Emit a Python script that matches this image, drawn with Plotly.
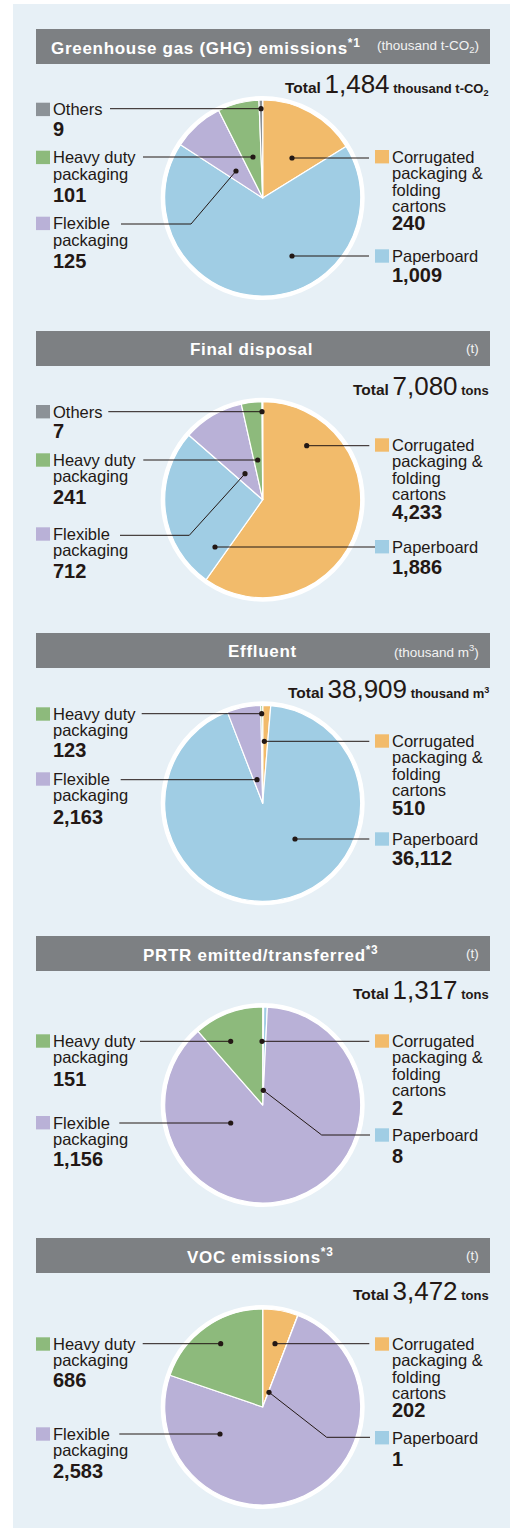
import plotly.graph_objects as go

W, H = 510, 1528

# ---------------- data ----------------
categories = ["Corrugated packaging & folding cartons", "Paperboard",
              "Flexible packaging", "Heavy duty packaging", "Others"]
category_lines = [["Corrugated", "packaging &", "folding", "cartons"],
                  ["Paperboard"], ["Flexible", "packaging"],
                  ["Heavy duty", "packaging"], ["Others"]]
category_colors = ["#F2BB6B", "#A0CDE4", "#B9B1D7", "#8DBA7C", "#8C9297"]

ghg_values = [240, 1009, 125, 101, 9]
disposal_values = [4233, 1886, 712, 241, 7]
effluent_values = [510, 36112, 2163, 123]
prtr_values = [2, 8, 1156, 151]
voc_values = [202, 1, 2583, 686]

chart_titles = ["Greenhouse gas (GHG) emissions<sup>*1</sup>", "Final disposal",
                "Effluent", "PRTR emitted/transferred<sup>*3</sup>",
                "VOC emissions<sup>*3</sup>"]
header_units = ["(thousand t-CO<sub>2</sub>)", "(t)", "(thousand m<sup>3</sup>)", "(t)", "(t)"]
total_labels = ["1,484", "7,080", "38,909", "1,317", "3,472"]
total_units = ["thousand t-CO<sub>2</sub>", "tons", "thousand m<sup>3</sup>", "tons", "tons"]

all_values = [ghg_values, disposal_values, effluent_values, prtr_values, voc_values]

# ---------------- layout (pixel positions) ----------------
TEXT = "#231815"
SANS = "Liberation Sans, Arial, Helvetica, sans-serif"
R = 98
CX = 262.7

# per chart: header y-range, title x, title anchor, pie center y, total baseline,
# labels: category index -> (side, square top, value centre y, leader points)
charts = [
    dict(header=(29, 64), tx=50, ta="left", cy=198, ty=94.3,
         labels={4: ("L", 102.7, 128.5, [(110, 108.7), (261, 108.7)]),
                 3: ("L", 150.7, 195, [(143, 157), (253, 157)]),
                 2: ("L", 216.7, 261, [(121, 224), (191, 224), (236, 171)]),
                 0: ("R", 150, 223.3, [(369, 158), (292, 158)]),
                 1: ("R", 249.3, 274.7, [(369, 256), (292, 256)])}),
    dict(header=(331, 366), tx=251, ta="center", cy=499.7, ty=396.7,
         labels={4: ("L", 405, 430.7, [(108.3, 411.7), (262, 411.7)]),
                 3: ("L", 453.3, 496.7, [(143.3, 460), (257.7, 460)]),
                 2: ("L", 527.3, 571.3, [(120, 535.3), (189.3, 535.3), (245, 473.7)]),
                 0: ("R", 438.3, 511.7, [(369.3, 445.7), (306.7, 445.7)]),
                 1: ("R", 540, 566.7, [(375, 547), (215, 547)])}),
    dict(header=(633, 668), tx=262, ta="center", cy=803.3, ty=699,
         labels={3: ("L", 707.3, 750.3, [(141.7, 713.7), (261.7, 713.7)]),
                 2: ("L", 772.3, 816.7, [(120.7, 779.7), (257, 779.7)]),
                 0: ("R", 734.3, 807.5, [(369.3, 741.3), (264.3, 741.3)]),
                 1: ("R", 832.3, 858.3, [(369.3, 839), (295, 839)])}),
    dict(header=(936, 971), tx=260, ta="center", cy=1105, ty=1000,
         labels={3: ("L", 1034.3, 1078.7, [(140, 1041.3), (230.7, 1041.3)]),
                 2: ("L", 1116, 1159, [(119.3, 1123), (230.7, 1123)]),
                 0: ("R", 1034.3, 1107.5, [(369.3, 1041.3), (262, 1041.3)]),
                 1: ("R", 1128.3, 1155.8, [(370, 1135), (321.7, 1135), (263.3, 1090.3)])}),
    dict(header=(1238, 1273), tx=260, ta="center", cy=1407, ty=1301.7,
         labels={3: ("L", 1337.3, 1380.2, [(142.7, 1343.7), (220.7, 1343.7)]),
                 2: ("L", 1427.3, 1470.5, [(119.3, 1434), (220, 1434)]),
                 0: ("R", 1337.3, 1410.2, [(369.3, 1343.7), (275, 1343.7)]),
                 1: ("R", 1431, 1458.8, [(370, 1437.3), (326.7, 1437.3), (269, 1392.3)])}),
]


def X(px):
    return px / W


def Y(py):
    return 1 - py / H


fig = go.Figure()
shapes = []
annotations = []


def txt(x, y, text, size, color=TEXT, anchor="left", family=SANS, yanchor="middle"):
    annotations.append(dict(x=X(x), y=Y(y), xref="paper", yref="paper", text=text,
                            showarrow=False, xanchor=anchor, yanchor=yanchor,
                            font=dict(size=size, color=color, family=family),
                            borderpad=0))


# panel background
shapes.append(dict(type="rect", xref="paper", yref="paper", x0=X(13), x1=X(510),
                   y0=Y(1528), y1=Y(4), fillcolor="#E7F0F6", line=dict(width=0), layer="below"))

for ci, (spec, vals) in enumerate(zip(charts, all_values)):
    cy = spec["cy"]
    h0, h1 = spec["header"]
    # header bar
    shapes.append(dict(type="rect", xref="paper", yref="paper", x0=X(36), x1=X(490),
                       y0=Y(h1), y1=Y(h0), fillcolor="#7D8083", line=dict(width=0), layer="below"))
    txt(spec["tx"], (h0 + h1) / 2 + 0.5,
        "<b><span style='letter-spacing:0.7px'>" + chart_titles[ci] + "</span></b>",
        17, color="white", anchor=spec["ta"])
    txt(480, (h0 + h1) / 2, header_units[ci], 13.5, color="#F2F2F2", anchor="right")
    # total
    txt(489.5, spec["ty"] + 5.5,
        "<b><span style='font-size:15.5px'>Total</span></b> "
        "<span style='font-size:26px'>" + total_labels[ci] + "</span> "
        "<b>" + total_units[ci] + "</b>",
        13, anchor="right", yanchor="bottom")
    # white ring behind pie
    shapes.append(dict(type="circle", xref="paper", yref="paper",
                       x0=X(CX - R - 4), x1=X(CX + R + 4), y0=Y(cy + R + 4), y1=Y(cy - R - 4),
                       fillcolor="white", line=dict(width=0), layer="below"))
    n = len(vals)
    fig.add_trace(go.Pie(
        labels=categories[:n], values=vals, sort=False, direction="clockwise", rotation=0,
        marker=dict(colors=category_colors[:n], line=dict(color="white", width=1.2)),
        textinfo="none", hoverinfo="label+value", showlegend=False,
        domain=dict(x=[X(CX - R), X(CX + R)], y=[Y(cy + R), Y(cy - R)])))
    # labels
    for k, (side, top, vy, pts) in spec["labels"].items():
        sx = 36 if side == "L" else 375
        tx = 52 if side == "L" else 391
        shapes.append(dict(type="rect", xref="paper", yref="paper", x0=X(sx), x1=X(sx + 14),
                           y0=Y(top + 13.4), y1=Y(top), fillcolor=category_colors[k],
                           line=dict(width=0), layer="above"))
        for li, line in enumerate(category_lines[k]):
            txt(tx, top + 6.7 + 16.4 * li, line, 16.5)
        txt(tx, vy, "<b>" + f"{vals[k]:,}" + "</b>", 20)
        path = "M " + " L ".join(f"{X(px)} {Y(py)}" for px, py in pts)
        shapes.append(dict(type="path", xref="paper", yref="paper", path=path,
                           line=dict(color=TEXT, width=1), layer="above"))
        dx, dy = pts[-1]
        shapes.append(dict(type="circle", xref="paper", yref="paper",
                           x0=X(dx - 2.6), x1=X(dx + 2.6), y0=Y(dy + 2.6), y1=Y(dy - 2.6),
                           fillcolor=TEXT, line=dict(width=0), layer="above"))

fig.update_layout(width=W, height=H, margin=dict(l=0, r=0, t=0, b=0),
                  paper_bgcolor="white", plot_bgcolor="white",
                  shapes=shapes, annotations=annotations, showlegend=False)

fig.write_html("out.html", config=dict(displayModeBar=False),
               post_script="document.body.style.margin='0';document.body.style.overflow='hidden';")
